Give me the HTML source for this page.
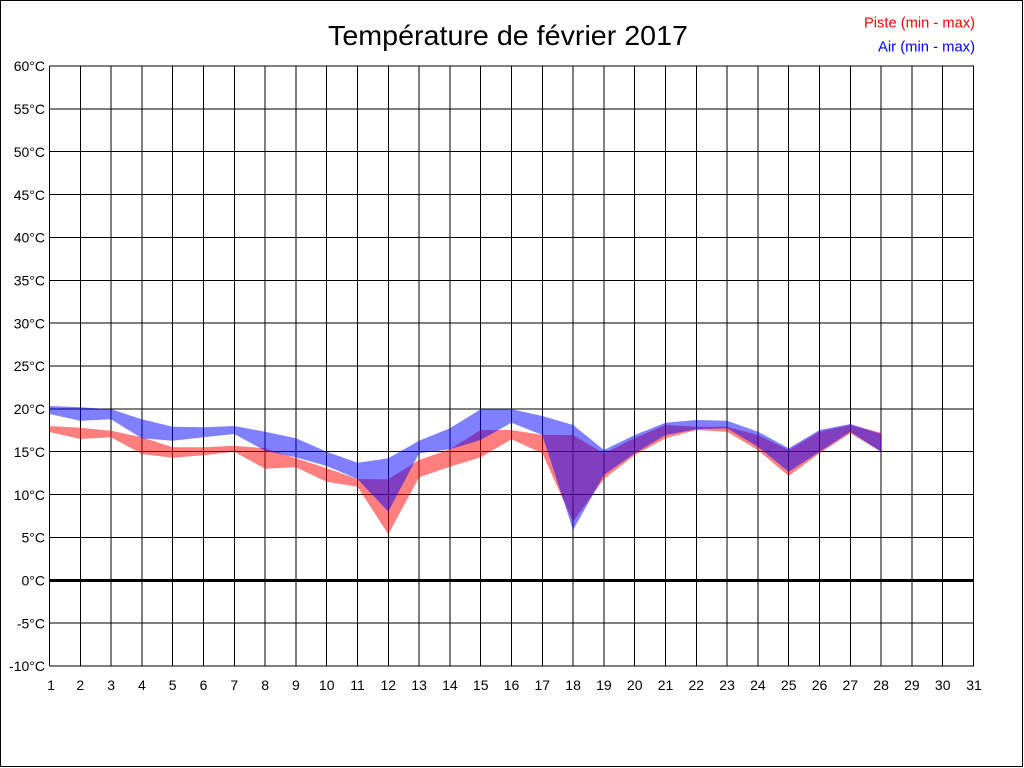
<!DOCTYPE html>
<html>
<head>
<meta charset="utf-8">
<style>
html, body { margin: 0; padding: 0; background: #ffffff; }
svg { display: block; }
text { font-family: "Liberation Sans", Arial, sans-serif; }
</style>
</head>
<body>
<svg width="1024" height="768" viewBox="0 0 1024 768" xmlns="http://www.w3.org/2000/svg">
<rect x="0" y="0" width="1024" height="768" fill="#ffffff"/>
<rect x="0.5" y="0.5" width="1022" height="766" fill="none" stroke="#000" stroke-width="1"/>
<path shape-rendering="crispEdges" stroke="#000" stroke-width="1" fill="none" d="M49.5 66H974M49.5 108.86H974M49.5 151.71H974M49.5 194.57H974M49.5 237.43H974M49.5 280.29H974M49.5 323.14H974M49.5 366H974M49.5 408.86H974M49.5 451.71H974M49.5 494.57H974M49.5 537.43H974M49.5 623.14H974M49.5 666H974"/>
<path shape-rendering="crispEdges" stroke="#000" stroke-width="1" fill="none" d="M49.5 66V666M80.3 66V666M111.1 66V666M141.9 66V666M172.7 66V666M203.5 66V666M234.3 66V666M265.1 66V666M295.9 66V666M326.7 66V666M357.5 66V666M388.3 66V666M419.1 66V666M449.9 66V666M480.7 66V666M511.5 66V666M542.3 66V666M573.1 66V666M603.9 66V666M634.7 66V666M665.5 66V666M696.3 66V666M727.1 66V666M757.9 66V666M788.7 66V666M819.5 66V666M850.3 66V666M881.1 66V666M911.9 66V666M942.7 66V666M973.5 66V666"/>
<line x1="49.5" y1="580.5" x2="974" y2="580.5" stroke="#000" stroke-width="3" shape-rendering="crispEdges"/>
<polygon fill="#ff0000" fill-opacity="0.5" points="49.5,426 80.3,427.7 111.1,430.7 141.9,437.3 172.7,447.3 203.5,447.3 234.3,445.7 265.1,448.3 295.9,458.3 326.7,468.3 357.5,479 388.3,479.3 419.1,460 449.9,449.3 480.7,430 511.5,430 542.3,435 573.1,435 603.9,453.5 634.7,438 665.5,425 696.3,426.7 727.1,426.7 757.9,435 788.7,450 819.5,431.7 850.3,425 881.1,432.7 881.1,451.7 850.3,433.3 819.5,453.3 788.7,476 757.9,450 727.1,431.7 696.3,430 665.5,438.3 634.7,455 603.9,479 573.1,521.7 542.3,453.3 511.5,439.3 480.7,457.3 449.9,466.7 419.1,477.3 388.3,534.3 357.5,486.7 326.7,481.7 295.9,467.3 265.1,468.7 234.3,451.7 203.5,455.3 172.7,457.7 141.9,454 111.1,437.3 80.3,439 49.5,432"/>
<polygon fill="#0000ff" fill-opacity="0.5" points="49.5,406 80.3,407.3 111.1,409.3 141.9,419.3 172.7,426.7 203.5,427.3 234.3,426 265.1,431.7 295.9,438.3 326.7,451.7 357.5,462.7 388.3,458.3 419.1,440.7 449.9,428.3 480.7,409.3 511.5,409.3 542.3,416 573.1,425 603.9,450 634.7,435 665.5,422.7 696.3,420 727.1,420.7 757.9,431.7 788.7,448.3 819.5,430 850.3,424 881.1,434 881.1,451.7 850.3,431.7 819.5,451.7 788.7,471.7 757.9,446.7 727.1,428.3 696.3,429.3 665.5,435 634.7,453.3 603.9,475 573.1,530 542.3,435 511.5,422.7 480.7,440 449.9,449.3 419.1,453.3 388.3,511.7 357.5,479 326.7,466 295.9,457.3 265.1,450.7 234.3,434 203.5,437.3 172.7,440.7 141.9,438.3 111.1,419.3 80.3,420.7 49.5,414"/>
<text font-size="14" fill="#000" text-anchor="end"><tspan x="45" y="71">60°C</tspan><tspan x="45" y="114">55°C</tspan><tspan x="45" y="157">50°C</tspan><tspan x="45" y="200">45°C</tspan><tspan x="45" y="242.5">40°C</tspan><tspan x="45" y="285.5">35°C</tspan><tspan x="45" y="328.3">30°C</tspan><tspan x="45" y="371">25°C</tspan><tspan x="45" y="414">20°C</tspan><tspan x="45" y="457">15°C</tspan><tspan x="45" y="500">10°C</tspan><tspan x="45" y="542.5">5°C</tspan><tspan x="45" y="585.5">0°C</tspan><tspan x="45" y="628.3">-5°C</tspan><tspan x="45" y="671">-10°C</tspan></text>
<text font-size="14" fill="#000" text-anchor="middle" y="690"><tspan x="51">1</tspan><tspan x="80.3">2</tspan><tspan x="111.1">3</tspan><tspan x="141.9">4</tspan><tspan x="172.7">5</tspan><tspan x="203.5">6</tspan><tspan x="234.3">7</tspan><tspan x="265.1">8</tspan><tspan x="295.9">9</tspan><tspan x="326.7">10</tspan><tspan x="357.5">11</tspan><tspan x="388.3">12</tspan><tspan x="419.1">13</tspan><tspan x="449.9">14</tspan><tspan x="480.7">15</tspan><tspan x="511.5">16</tspan><tspan x="542.3">17</tspan><tspan x="573.1">18</tspan><tspan x="603.9">19</tspan><tspan x="634.7">20</tspan><tspan x="665.5">21</tspan><tspan x="696.3">22</tspan><tspan x="727.1">23</tspan><tspan x="757.9">24</tspan><tspan x="788.7">25</tspan><tspan x="819.5">26</tspan><tspan x="850.3">27</tspan><tspan x="881.1">28</tspan><tspan x="911.9">29</tspan><tspan x="942.7">30</tspan><tspan x="974">31</tspan></text>
<text x="508" y="45" font-size="28" fill="#000" text-anchor="middle" textLength="360" lengthAdjust="spacingAndGlyphs">Température de février 2017</text>
<text x="975" y="27.3" font-size="15" fill="#ff0000" text-anchor="end" textLength="111" lengthAdjust="spacingAndGlyphs">Piste (min - max)</text>
<text x="975" y="51.5" font-size="15" fill="#0000ff" text-anchor="end" textLength="97" lengthAdjust="spacingAndGlyphs">Air (min - max)</text>
</svg>
</body>
</html>
